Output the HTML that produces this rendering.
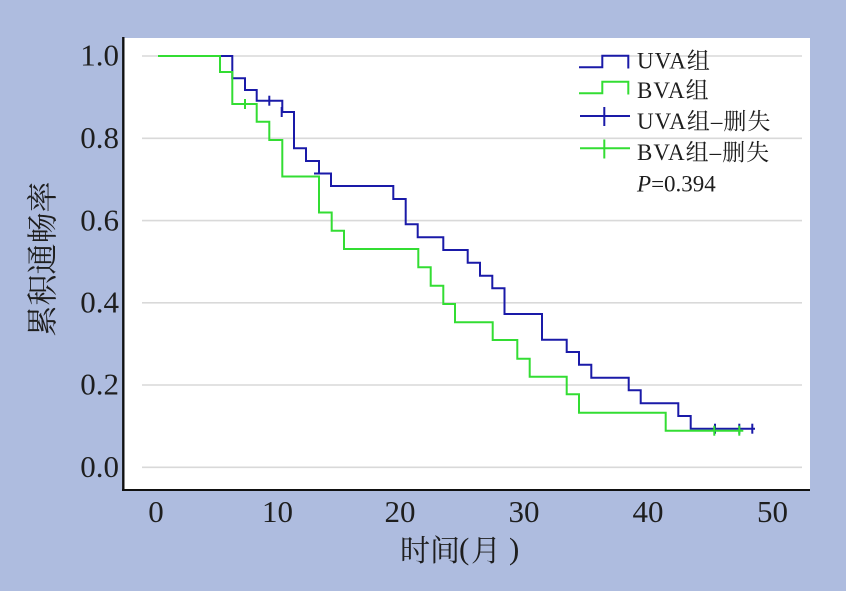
<!DOCTYPE html>
<html><head><meta charset="utf-8"><style>
html,body{margin:0;padding:0;background:#aebcdf;}
svg{display:block;}
text{fill:#1e1e1e;}
</style></head><body>
<svg width="846" height="591" viewBox="0 0 846 591" xmlns="http://www.w3.org/2000/svg">
<rect x="0" y="0" width="846" height="591" fill="#aebcdf"/>
<rect x="124" y="38" width="686" height="451" fill="#ffffff"/>
<g stroke="#d9d9d9" stroke-width="1.6">
<line x1="142" y1="56" x2="802" y2="56"/>
<line x1="142" y1="138.3" x2="802" y2="138.3"/>
<line x1="142" y1="220.6" x2="802" y2="220.6"/>
<line x1="142" y1="302.8" x2="802" y2="302.8"/>
<line x1="142" y1="385" x2="802" y2="385"/>
<line x1="142" y1="467.3" x2="802" y2="467.3"/>
</g>
<line x1="123.3" y1="37" x2="123.3" y2="491" stroke="#111" stroke-width="2.4"/>
<line x1="122" y1="490" x2="810" y2="490" stroke="#111" stroke-width="2"/>
<g font-family="Liberation Serif, serif" font-size="31" text-anchor="end">
<text x="119" y="65.7">1.0</text>
<text x="119" y="148">0.8</text>
<text x="119" y="230.3">0.6</text>
<text x="119" y="312.5">0.4</text>
<text x="119" y="394.7">0.2</text>
<text x="119" y="477">0.0</text>
</g>
<g font-family="Liberation Serif, serif" font-size="31" text-anchor="middle">
<text x="156" y="522">0</text>
<text x="277.5" y="522">10</text>
<text x="400" y="522">20</text>
<text x="524" y="522">30</text>
<text x="648" y="522">40</text>
<text x="772.5" y="522">50</text>
</g>
<g font-family="Liberation Serif, 'Noto Serif CJK SC', serif" font-size="30">
<text x="400" y="561" font-family="'Noto Serif CJK SC', serif">时</text>
<text x="430" y="561" font-family="'Noto Serif CJK SC', serif">间</text>
<text x="459" y="559" font-size="31">(</text>
<text x="471" y="561" font-family="'Noto Serif CJK SC', serif">月</text>
<text x="509" y="559" font-size="31">)</text>
</g>
<text transform="translate(40,259) rotate(-90)" font-family="'Noto Serif CJK SC', serif" font-size="31" text-anchor="middle" dominant-baseline="central">累积通畅率</text>

<g fill="none" stroke-width="2" stroke-linejoin="miter">
<path stroke="#1a1aa8" d="M158,56 H232.3 V78.3 H245 V90 H256.7 V100.7 H282.3 V112 H294 V148.3 H306 V161 H319 V173.5 H331 V186 H393.3 V199 H405.7 V224.3 H417.7 V237.3 H443.3 V250 H467.7 V262.7 H480 V275.7 H492.3 V288.3 H504.5 V314 H542 V339.7 H566.7 V352 H579 V364.7 H591.3 V377.7 H628.7 V390.3 H640.7 V403.3 H678.3 V416 H690.7 V428.7 H755"/>
<g stroke="#1a1aa8">
<line x1="269.3" y1="95.7" x2="269.3" y2="105.7"/>
<line x1="281.7" y1="107" x2="281.7" y2="117"/>
<line x1="314" y1="173.5" x2="322" y2="173.5"/>
<line x1="715" y1="423.7" x2="715" y2="433.7"/>
<line x1="739.3" y1="423.7" x2="739.3" y2="433.7"/>
<line x1="752.3" y1="423.7" x2="752.3" y2="433.7"/>
</g>
<path stroke="#33dd33" d="M158,56 H220 V72 H232.3 V104 H256.7 V121.7 H269.3 V140 H282.3 V176.5 H319 V212.5 H331.7 V230.7 H344 V249 H418.3 V267.3 H430.7 V285.7 H443.3 V304 H455 V322.3 H492.7 V340 H517.3 V358.7 H529.7 V376.7 H566.7 V394.3 H579 V412.7 H665.7 V430.7 H743.3"/>
<g stroke="#33dd33">
<line x1="245" y1="99" x2="245" y2="109"/>
<line x1="714.3" y1="425.7" x2="714.3" y2="435.7"/>
<line x1="739.3" y1="425.7" x2="739.3" y2="435.7"/>
</g>
</g>

<g fill="none" stroke-width="2">
<path stroke="#1a1aa8" d="M579,67.3 H602.3 V55.7 H628.3 V68.5"/>
<path stroke="#33dd33" d="M579,93.3 H602.3 V81.7 H628.3 V94.5"/>
<line stroke="#1a1aa8" x1="580" y1="116" x2="630" y2="116"/>
<line stroke="#1a1aa8" x1="604.3" y1="107" x2="604.3" y2="126"/>
<line stroke="#33dd33" x1="580" y1="148.3" x2="630" y2="148.3"/>
<line stroke="#33dd33" x1="604.3" y1="139.5" x2="604.3" y2="158.5"/>
</g>
<g font-family="Liberation Serif, 'Noto Serif CJK SC', serif" font-size="23" letter-spacing="1">
<text x="637" y="68.5">UVA组</text>
<text x="637" y="98">BVA组</text>
<text x="637" y="129">UVA组–删失</text>
<text x="637" y="160">BVA组–删失</text>
<text x="637" y="191.5" letter-spacing="0"><tspan font-style="italic">P</tspan>=0.394</text>
</g>
</svg>
</body></html>
